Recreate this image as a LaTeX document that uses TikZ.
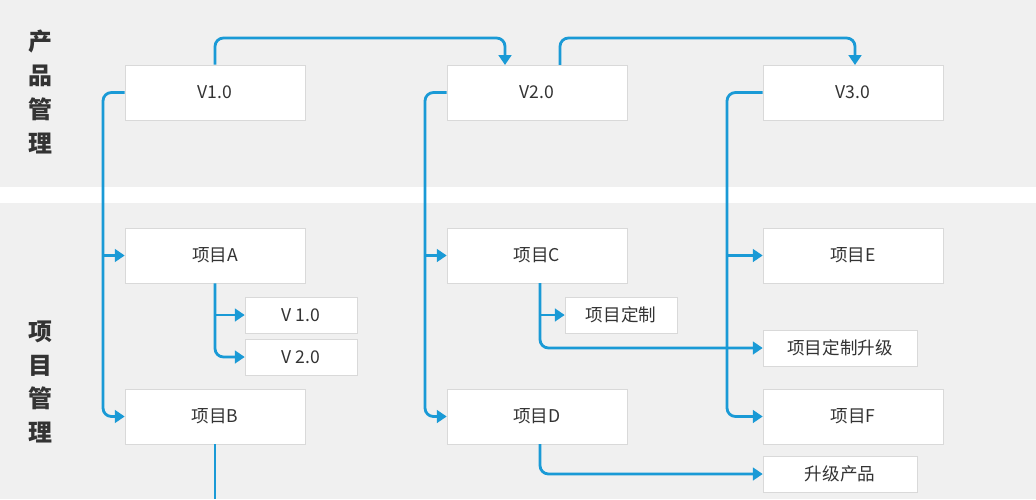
\documentclass[tikz,border=0pt]{standalone}
\usepackage{fontspec}
\setmainfont{Noto Sans CJK SC}
\usetikzlibrary{arrows.meta,calc}
\begin{document}
\begin{tikzpicture}[x=0.025cm,y=-0.025cm,
  box/.style={draw=black!15,fill=white,minimum width=4.5cm,minimum height=1.375cm,font=\fontsize{12.5}{14}\selectfont,text=black!80,inner sep=0pt},
  sbox/.style={draw=black!15,fill=white,minimum width=2.8cm,minimum height=0.9cm,font=\fontsize{12.5}{14}\selectfont,text=black!80,inner sep=0pt},
  lbl/.style={font=\fontsize{17}{24}\selectfont\bfseries,text=black!80,align=center},
  con/.style={draw={rgb,255:red,26;green,154;blue,214},line width=2pt,rounded corners=6pt},
  arr/.style={con,-{Triangle[width=9pt,length=7pt]}}]
\useasboundingbox (0,0) rectangle (1036,499);
\fill[black!6] (0,0) rectangle (1036,187);
\fill[black!6] (0,203) rectangle (1036,499);
\node[lbl] (l1) at (40,92) {产\\品\\管\\理};
\node[lbl] (l2) at (40,382) {项\\目\\管\\理};
\node[box] (v1) at (215,92.5) {V1.0};
\node[box] (v2) at (537,92.5) {V2.0};
\node[box] (v3) at (853,92.5) {V3.0};
\node[box] (a) at (215,255.5) {项目A};
\node[box] (c) at (537,255.5) {项目C};
\node[box] (e) at (853,255.5) {项目E};
\node[box] (b) at (215,416.5) {项目B};
\node[box] (d) at (537,416.5) {项目D};
\node[box] (f) at (853,416.5) {项目F};
\node[sbox] (a1) at (301,315) {V 1.0};
\node[sbox] (a2) at (301,357) {V 2.0};
\node[sbox] (c1) at (621,315) {项目定制};
\node[sbox,minimum width=3.85cm] (e1) at (840,348) {项目定制升级};
\node[sbox,minimum width=3.85cm] (g) at (840,474) {升级产品};
\coordinate (t2) at (505,65);
\coordinate (t3) at (855,65);
\draw[arr] (v1.north) -- (215,38) -- (505,38) -- (t2);
\draw[arr] (560,65) -- (560,38) -- (855,38) -- (t3);
\draw[arr] (v1.west) -- (103,92.5) -- (103,416.5) -- (b.west);
\draw[arr,rounded corners=0pt] (103,255.5) -- (a.west);
\draw[arr] (v2.west) -- (425,92.5) -- (425,416.5) -- (d.west);
\draw[arr,rounded corners=0pt] (425,255.5) -- (c.west);
\draw[arr] (v3.west) -- (727,92.5) -- (727,416.5) -- (f.west);
\draw[arr,rounded corners=0pt] (727,255.5) -- (e.west);
\draw[arr] (a.south) -- (215,357) -- (a2.west);
\draw[arr,rounded corners=0pt] (215,315) -- (a1.west);
\draw[arr] (540,283) -- (540,348) -- (e1.west);
\draw[arr,rounded corners=0pt] (540,315) -- (c1.west);
\draw[arr] (540,444) -- (540,474) -- (g.west);
\draw[con] (b.south) -- (215,499);
\end{tikzpicture}
\end{document}
